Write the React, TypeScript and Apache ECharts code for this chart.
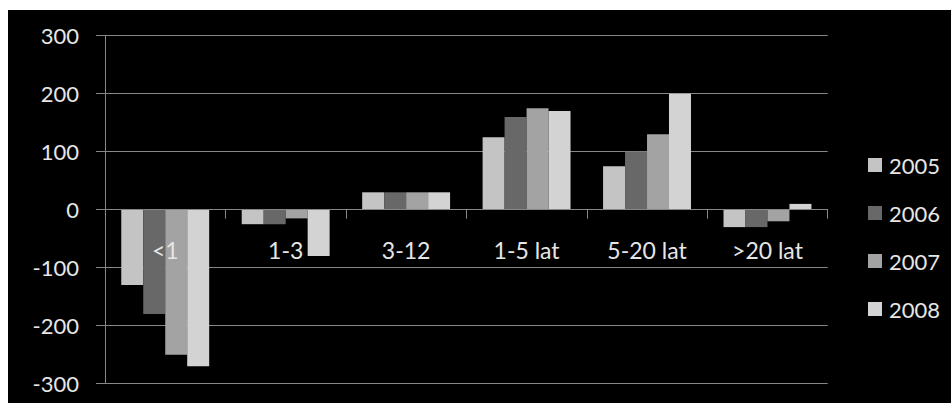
import React, { useEffect, useRef } from "react";
import * as echarts from "echarts";

// Age-group categories and yearly changes
const categories = ["<1", "1-3", "3-12", "1-5 lat", "5-20 lat", ">20 lat"];
const years = ["2005", "2006", "2007", "2008"];
const values2005 = [-130, -25, 30, 125, 75, -30];
const values2006 = [-180, -25, 30, 160, 100, -30];
const values2007 = [-250, -15, 30, 175, 130, -20];
const values2008 = [-270, -80, 30, 170, 200, 10];
const yTicks = { min: -300, max: 300, interval: 100 };

const seriesValues = [values2005, values2006, values2007, values2008];
const colors = ["#c4c4c4", "#686868", "#a3a3a3", "#d3d3d3"];

const FONT = "Lato, 'Open Sans', sans-serif";
const TEXT = "#e6e6e6";
const LINE = "#878787";

// plot box inside the 943x393 chart area
const GRID = { left: 97, top: 25.7, right: 123.3, bottom: 19.3 };
const CHART_H = 393;
const PLOT_H = CHART_H - GRID.top - GRID.bottom;
// shift the category axis from the plot's bottom edge up to the zero line
const zeroOffset =
  -PLOT_H * ((0 - yTicks.min) / (yTicks.max - yTicks.min));

export default function App() {
  const ref = useRef<HTMLDivElement>(null);

  useEffect(() => {
    document.body.style.margin = "0";
    document.body.style.background = "#ffffff";
    if (!ref.current) return;
    const chart = echarts.init(ref.current, undefined, { renderer: "svg" });
    chart.setOption({
      animation: false,
      backgroundColor: "#000000",
      color: colors,
      textStyle: { fontFamily: FONT },
      grid: {
        ...GRID,
        containLabel: false,
        outerBoundsMode: "none",
      },
      legend: {
        orient: "vertical",
        left: 855,
        top: 139,
        itemWidth: 14,
        itemHeight: 14,
        itemGap: 26,
        icon: "rect",
        data: years,
        textStyle: { color: TEXT, fontSize: 22, fontFamily: FONT, lineHeight: 22, padding: [0, 0, 0, 2] },
      },
      xAxis: {
        type: "category",
        data: categories,
        position: "bottom",
        offset: zeroOffset,
        z: 10,
        axisLine: { onZero: false, lineStyle: { color: LINE, width: 1 } },
        axisTick: { show: true, length: 9, lineStyle: { color: LINE } },
        axisLabel: { color: TEXT, fontSize: 23, fontFamily: FONT, margin: 29 },
        splitLine: { show: false },
      },
      yAxis: {
        type: "value",
        min: yTicks.min,
        max: yTicks.max,
        interval: yTicks.interval,
        axisLine: { show: true, lineStyle: { color: LINE, width: 1 } },
        axisTick: { show: true, length: 9, lineStyle: { color: LINE } },
        axisLabel: { color: TEXT, fontSize: 22, fontFamily: FONT, margin: 26 },
        splitLine: { show: true, lineStyle: { color: LINE, width: 1 } },
      },
      series: years.map((name, i) => ({
        name,
        type: "bar",
        data: seriesValues[i],
        barGap: "0%",
        barCategoryGap: "27%",
        itemStyle: { color: colors[i] },
      })),
    });
    return () => chart.dispose();
  }, []);

  return (
    <div
      ref={ref}
      style={{ position: "absolute", left: 8, top: 10, width: 943, height: CHART_H }}
    />
  );
}
